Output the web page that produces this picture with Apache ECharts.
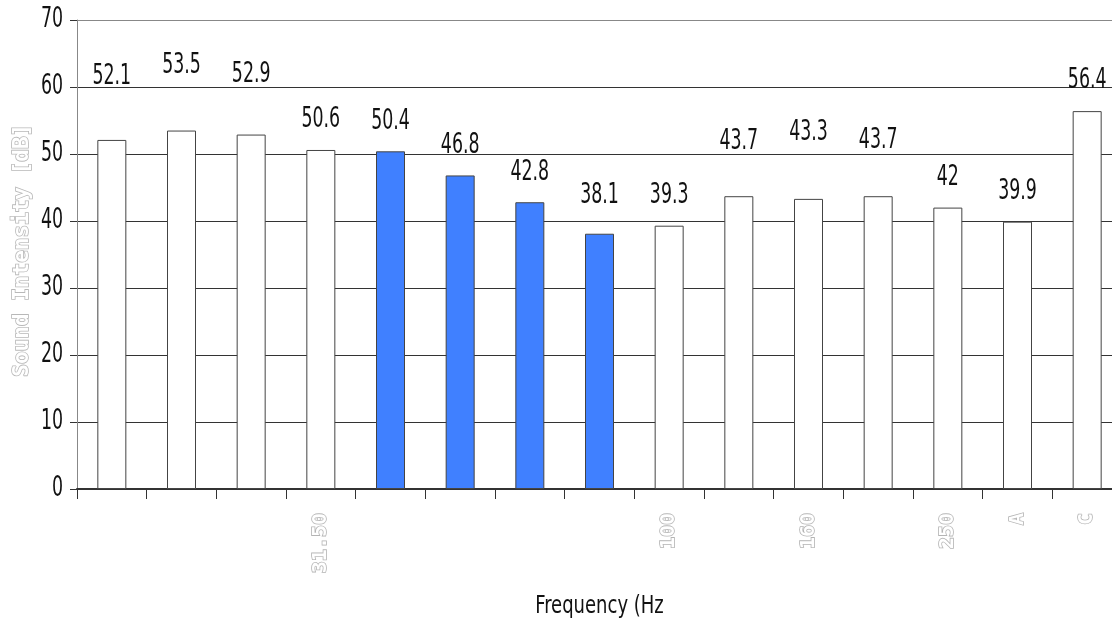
<!DOCTYPE html>
<html>
<head>
<meta charset="utf-8">
<script src="https://cdn.jsdelivr.net/npm/echarts@6/dist/echarts.min.js"></script>
<style>
  html, body { margin: 0; padding: 0; background: #fff; }
  #chart { width: 1112px; height: 624px; }
</style>
</head>
<body>
<div id="chart"></div>
<script>
// Band labels along the frequency axis (blank where no label is printed)
const categories = ['', '', '', '31.50', '', '', '', '', '100', '', '160', '', '250', 'A', 'C'];
// Measured sound intensity per band, dB
const intensity = [52.1, 53.5, 52.9, 50.6, 50.4, 46.8, 42.8, 38.1, 39.3, 43.7, 43.3, 43.7, 42, 39.9, 56.4];
// Bands drawn in blue
const blueBands = [4, 5, 6, 7];
// Extra upward shift of some value labels (px)
const labelLift = [33, 35, 30, 0, 0, 0, 0, 8, 0, 24, 36, 25, 0, 0, 0];
// Y axis tick values
const yTicks = [0, 10, 20, 30, 40, 50, 60, 70];

const narrowFamily = "'DejaVu Sans Condensed', 'Liberation Sans Narrow', sans-serif";
const mono = "'DejaVu Sans Mono', 'Liberation Mono', monospace";

// Horizontal squeeze applied to the condensed texts, keyed by font size
const squeeze = { 28: 0.69, 25: 0.8 };

const chart = echarts.init(document.getElementById('chart'), null, { renderer: 'canvas' });

const seriesData = intensity.map((v, i) => ({
  value: v,
  itemStyle: { color: blueBands.includes(i) ? '#4080ff' : '#ffffff' },
  label: { offset: [0, -labelLift[i]] }
}));

chart.setOption({
  animation: false,
  backgroundColor: '#ffffff',
  grid: { left: 77, right: -10, top: 20, bottom: 135, containLabel: false, outerBoundsMode: 'none' },
  xAxis: {
    type: 'category',
    data: categories,
    axisLine: { show: true, lineStyle: { color: '#333', width: 2 } },
    axisTick: { show: true, alignWithLabel: false, interval: 0, length: 10, lineStyle: { color: '#333', width: 1 } },
    axisLabel: {
      interval: 0,
      rotate: 90,
      margin: 24,
      fontFamily: mono,
      fontWeight: 'bold',
      fontSize: 20,
      color: '#ffffff',
      textBorderColor: '#b4b4b4',
      textBorderWidth: 1.6
    },
    name: 'Frequency (Hz',
    nameLocation: 'middle',
    nameGap: 105,
    nameTextStyle: { fontFamily: narrowFamily, fontSize: 25, color: '#111' }
  },
  yAxis: {
    type: 'value',
    min: yTicks[0],
    max: yTicks[yTicks.length - 1],
    interval: yTicks[1] - yTicks[0],
    axisLine: { show: true, lineStyle: { color: '#888', width: 1 } },
    axisTick: { show: true, length: 7, lineStyle: { color: '#333' } },
    axisLabel: { margin: 14, fontFamily: narrowFamily, fontSize: 28, color: '#111' },
    splitLine: {
      show: true,
      lineStyle: { color: ['#333', '#333', '#333', '#333', '#333', '#333', '#333', '#888'], width: 1 }
    }
  },
  graphic: [{
    type: 'text',
    left: 11,
    top: 123,
    rotation: Math.PI / 2,
    style: {
      text: 'Sound Intensity [dB]',
      fontFamily: mono,
      fontWeight: 'bold',
      fontSize: 21,
      fill: '#ffffff',
      stroke: '#b8b8b8',
      lineWidth: 1.6
    }
  }],
  series: [{
    type: 'bar',
    data: seriesData,
    barWidth: 29,
    itemStyle: { borderColor: '#444', borderWidth: 1 },
    label: {
      show: true,
      position: 'top',
      distance: 16,
      fontFamily: narrowFamily,
      fontSize: 28,
      color: '#111'
    }
  }]
});

// Squeeze the condensed texts horizontally around their anchor points
const zr = chart.getZr();
zr.storage.getDisplayList(true).forEach(el => {
  const font = el.style && el.style.font;
  if (!font || font.indexOf('Condensed') < 0) return;
  const m = font.match(/(\d+)px/);
  const s = m && squeeze[m[1]];
  if (s) {
    el.scaleX = s;
    el.markRedraw();
  }
});
zr.refreshImmediately();
</script>
</body>
</html>
